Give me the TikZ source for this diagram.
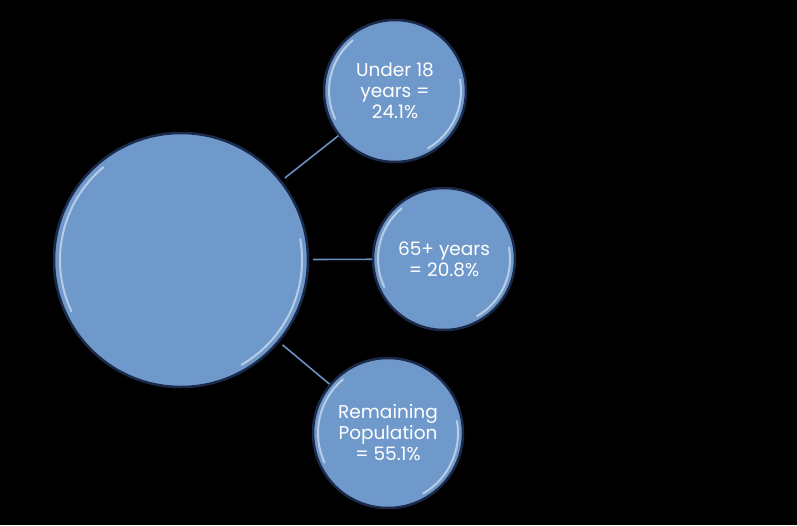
\documentclass[tikz,border=0pt]{standalone}
\usepackage{fontspec}
\setmainfont{Poppins}
\definecolor{bfill}{HTML}{7099CB}
\definecolor{bedge}{HTML}{1B2A4A}
\definecolor{blink}{HTML}{6A90C0}
\begin{document}
\begin{tikzpicture}[x=1pt,y=1pt,
  bubble/.style={circle, fill=bfill, draw=bedge, line width=2.5pt, inner sep=0pt,
    text=white, align=center, font=\fontsize{18.5}{21}\selectfont},
  link/.style={draw=blink, line width=1.6pt},
  hl/.style={draw=white, line width=2pt, opacity=0.5, line cap=round}]
\fill[black] (0,0) rectangle (797,-525);
\useasboundingbox (0,0) rectangle (797,-525);
\node[bubble, minimum size=254pt] (big) at (181,-260) {};
\node[bubble, minimum size=142pt] (u18) at (395,-91) {Under 18\\years =\\24.1\%};
\node[bubble, minimum size=142pt] (old) at (444,-259) {65+ years\\= 20.8\%};
\node[bubble, minimum size=150pt] (rem) at (388,-433) {Remaining\\Population\\= 55.1\%};
\draw[link, shorten <=4pt] (big) -- (u18);
\draw[link, shorten <=4pt] (big) -- (old);
\draw[link, shorten <=4pt] (big) -- (rem);
% highlights
\draw[hl] (big.center) ++(130:121) arc[start angle=130, end angle=205, radius=121];
\draw[hl] (big.center) ++(-60:121) arc[start angle=-60, end angle=10, radius=121];
\draw[hl] (u18.center) ++(130:66) arc[start angle=130, end angle=205, radius=66];
\draw[hl] (u18.center) ++(-60:66) arc[start angle=-60, end angle=10, radius=66];
\draw[hl] (old.center) ++(130:66) arc[start angle=130, end angle=205, radius=66];
\draw[hl] (old.center) ++(-60:66) arc[start angle=-60, end angle=10, radius=66];
\draw[hl] (rem.center) ++(130:70) arc[start angle=130, end angle=205, radius=70];
\draw[hl] (rem.center) ++(-60:70) arc[start angle=-60, end angle=10, radius=70];
\end{tikzpicture}
\end{document}
